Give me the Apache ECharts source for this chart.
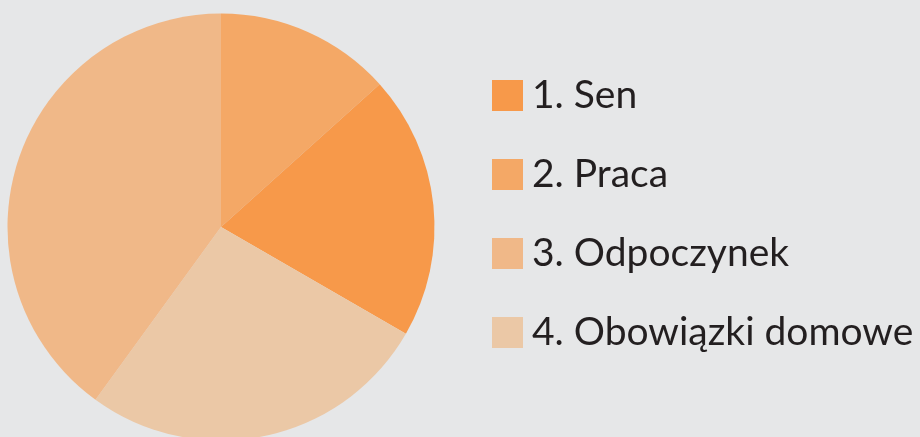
<!DOCTYPE html>
<html><head><meta charset="utf-8">
<script src="https://cdn.jsdelivr.net/npm/echarts@6/dist/echarts.min.js"></script>
<style>html,body{margin:0;padding:0;background:#E6E7E8;}#c{width:920px;height:437px;}</style>
</head><body><div id="c"></div>
<script>
// Slices in drawing order (clockwise from 12 o'clock)
const sliceNames = ['2. Praca', '1. Sen', '4. Obowiązki domowe', '3. Odpoczynek'];
const sliceValues = [2, 3, 4, 6];
const sliceColors = ['#F4A866', '#F7994A', '#EBC8A6', '#F0B888'];
// Legend order
const legendNames = ['1. Sen', '2. Praca', '3. Odpoczynek', '4. Obowiązki domowe'];

const chart = echarts.init(document.getElementById('c'), null, {renderer: 'canvas'});
chart.setOption({
  backgroundColor: '#E6E7E8',
  animation: false,
  legend: {
    data: legendNames,
    orient: 'vertical',
    left: 492,
    top: 76,
    padding: 0,
    itemWidth: 31,
    itemHeight: 31,
    itemGap: 40,
    icon: 'rect',
    textStyle: {fontFamily: 'Lato', fontSize: 39, lineHeight: 31, color: '#231F20', padding: [0, 0, 0, 4]},
    selectedMode: false
  },
  series: [{
    type: 'pie',
    center: [221, 227],
    radius: 213.5,
    startAngle: 90,
    clockwise: true,
    label: {show: false},
    labelLine: {show: false},
    emphasis: {disabled: true},
    itemStyle: {borderWidth: 0},
    data: sliceNames.map((n, i) => ({name: n, value: sliceValues[i], itemStyle: {color: sliceColors[i]}}))
  }]
});
</script></body></html>
